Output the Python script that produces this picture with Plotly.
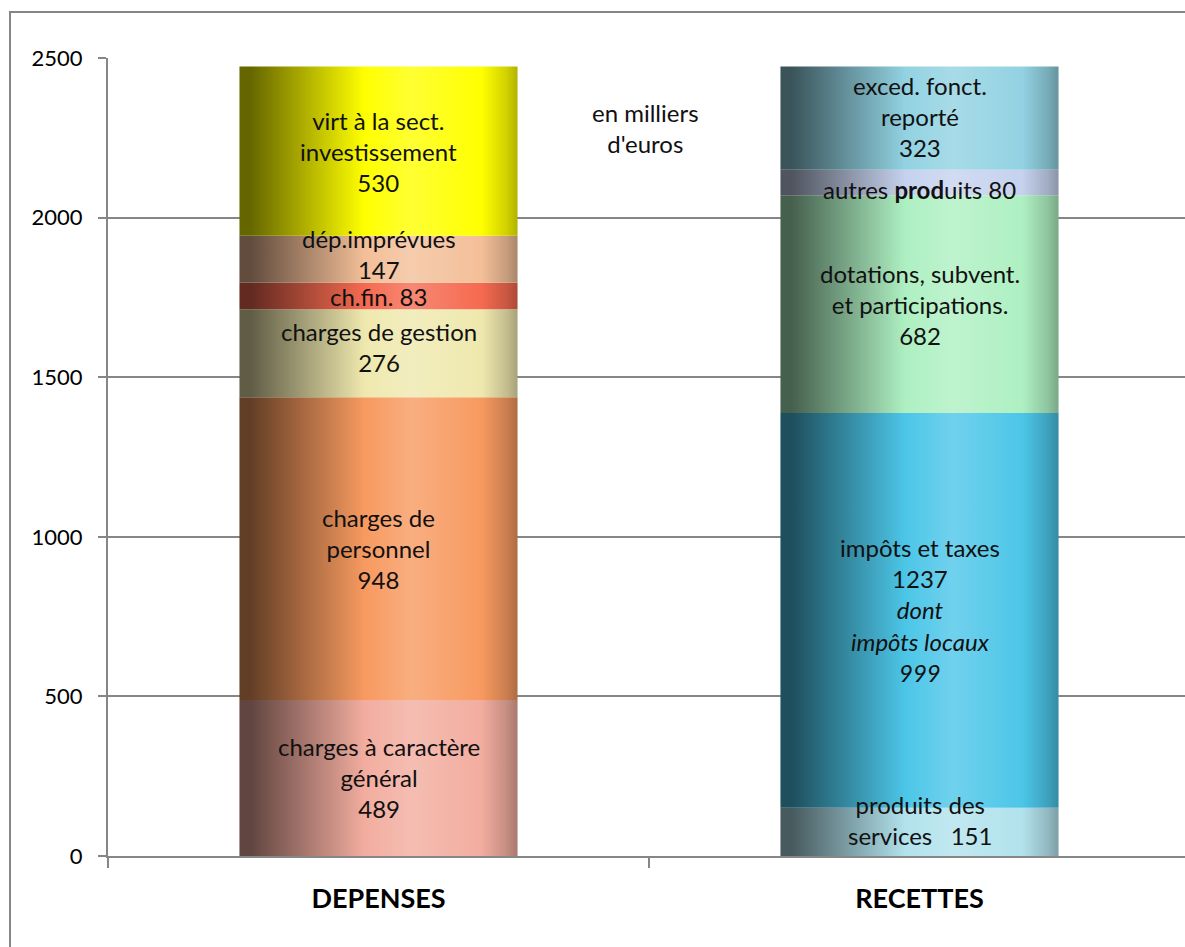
import plotly.graph_objects as go

# ---------------- data ----------------
categories = ["DEPENSES", "RECETTES"]

dep_labels = ["charges à caractère<br>général", "charges de<br>personnel", "charges de gestion",
              "ch.fin.", "dép.imprévues", "virt à la sect.<br>investissement"]
dep_values = [489, 948, 276, 83, 147, 530]
dep_sep = ["<br>", "<br>", "<br>", " ", "<br>", "<br>"]
dep_colors = ["#f2ad9f", "#f79a60", "#efe8ae", "#f56a50", "#f3bf98", "#ffff00"]

rec_labels = ["produits des<br>services ", "impôts et taxes", "dotations, subvent.<br>et participations.",
              "autres <b>prod</b>uits", "exced. fonct.<br>reporté"]
rec_values = [151, 1237, 682, 80, 323]
rec_sep = ["  ", "<br>", "<br>", " ", "<br>"]
rec_colors = ["#b2e2ec", "#4cc6e8", "#aef0c2", "#c6d2ee", "#92d2e2"]
impots_locaux = 999

unit_note = "en milliers<br>d'euros"
y_ticks = [0, 500, 1000, 1500, 2000, 2500]

# ---------------- style / layout ----------------
W, H = 1185, 947
ML, MR, MT, MB = 108, 0, 58, 91
plot_w = W - ML - MR
cat_px = 541.0
x_range = [-0.5, -0.5 + plot_w / cat_px]
bar_w = 0.514
grey = "#868686"
FONT = "Lato"
TXT = 24
label_shift = {("DEPENSES", 2): 6, ("DEPENSES", 3): -1, ("DEPENSES", 4): 5,
               ("RECETTES", 0): 12, ("RECETTES", 3): -7, ("RECETTES", 4): 2}


def hex2rgb(h):
    h = h.lstrip("#")
    return tuple(int(h[i:i + 2], 16) for i in (0, 2, 4))


def mix(c, t, a):
    return "rgb(%d,%d,%d)" % tuple(round(ci * (1 - a) + ti * a) for ci, ti in zip(c, t))


def cscale(hexcol):
    c = hex2rgb(hexcol)
    k, w = (0, 0, 0), (255, 255, 255)
    return [[0.0, mix(c, k, 0.6)], [0.04, mix(c, k, 0.6)], [0.45, mix(c, k, 0.0)],
            [0.62, mix(c, w, 0.2)], [0.87, mix(c, k, 0.0)], [0.96, mix(c, k, 0.18)],
            [1.0, mix(c, k, 0.3)]]


fig = go.Figure()
annotations = []

series = [
    (0, "DEPENSES", dep_labels, dep_values, dep_sep, dep_colors),
    (1, "RECETTES", rec_labels, rec_values, rec_sep, rec_colors),
]
for ci, cat, labels, values, seps, colors in series:
    base = 0
    for i, (lab, val, sep, col) in enumerate(zip(labels, values, seps, colors)):
        top = base + val
        x0, x1 = ci - bar_w / 2, ci + bar_w / 2
        fig.add_trace(go.Scatter(
            x=[x0, x1, x1, x0, x0], y=[base, base, top, top, base],
            mode="lines", fill="toself", line=dict(width=0),
            fillgradient=dict(type="horizontal", colorscale=cscale(col)),
            hoverinfo="skip", showlegend=False, name=lab.replace("<br>", " ")))
        text = f"{lab}{sep}{val}"
        if cat == "RECETTES" and i == 1:
            text += f"<br><i>dont<br>impôts locaux<br>{impots_locaux}</i>"
        annotations.append(dict(
            x=ci, y=(base + top) / 2, xref="x", yref="y", text=text, showarrow=False,
            font=dict(family=FONT, size=TXT, color="#111111"), align="center",
            yshift=label_shift.get((cat, i), 0)))
        base = top

annotations.append(dict(x=0.493, y=2274, xref="x", yref="y", text=unit_note, showarrow=False,
                        font=dict(family=FONT, size=TXT, color="#111111"), align="center",
                        yshift=2))

fig.update_layout(
    width=W, height=H, margin=dict(l=ML, r=MR, t=MT, b=MB),
    paper_bgcolor="white", plot_bgcolor="white", showlegend=False,
    annotations=annotations,
    shapes=[dict(type="rect", xref="paper", yref="paper",
                 x0=(10 - ML) / plot_w, x1=1.05, y0=-0.2, y1=(856 - 12) / (H - MT - MB),
                 line=dict(color=grey, width=2), fillcolor="rgba(0,0,0,0)", layer="below")],
)
fig.update_xaxes(
    range=x_range, tickvals=[0, 1], ticktext=[f"<b>{c}</b>" for c in categories],
    ticks="", showline=True, linecolor=grey, linewidth=2, showgrid=False, zeroline=False,
    tickfont=dict(family=FONT, size=27, color="black"), ticklabelstandoff=18,
    minor=dict(tickvals=[-0.5, 0.5, 1.5], ticks="outside", ticklen=10, tickwidth=2, tickcolor=grey),
)
fig.update_yaxes(
    range=[0, 2500], tickvals=y_ticks, ticks="outside", ticklen=8, tickwidth=2, tickcolor=grey,
    showline=True, linecolor=grey, linewidth=2, showgrid=True, gridcolor=grey, gridwidth=2,
    zeroline=False, tickfont=dict(family=FONT, size=22, color="black"), ticklabelstandoff=11,
)

fig.write_html("out.html")
